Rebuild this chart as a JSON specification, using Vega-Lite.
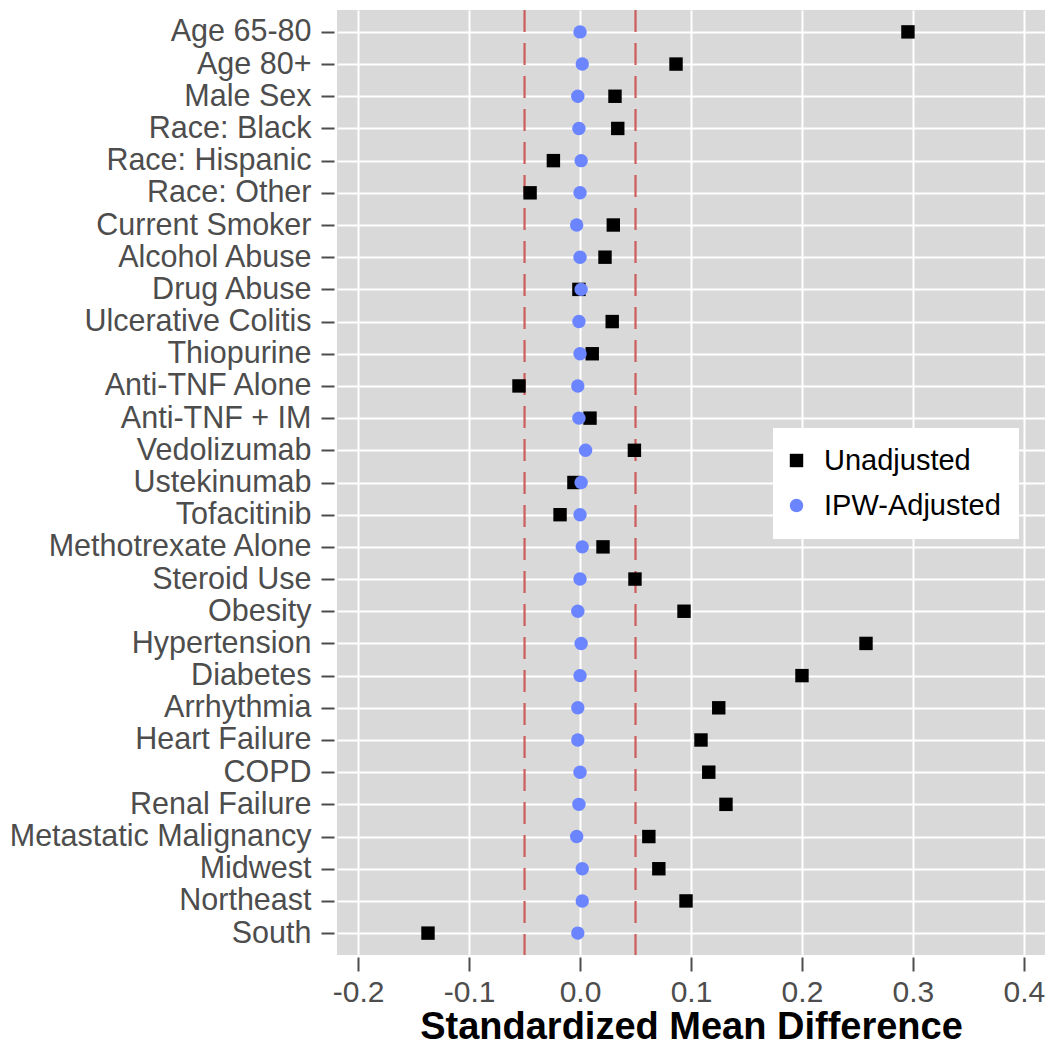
{
  "$schema": "https://vega.github.io/schema/vega-lite/v6.json",
  "width": 708,
  "height": 945,
  "autosize": {"type": "none"},
  "padding": {"left": 337, "top": 10, "right": 4, "bottom": 90},
  "background": "white",
  "view": {"fill": "#d9d9d9", "stroke": null},
  "config": {
    "font": "Liberation Sans",
    "axis": {"labelFont": "Liberation Sans", "titleFont": "Liberation Sans"}
  },
  "datasets": {
    "smd": [
      {"variable": "Age 65-80", "series": "Unadjusted", "smd": 0.2955},
      {"variable": "Age 65-80", "series": "IPW-Adjusted", "smd": 0.0},
      {"variable": "Age 80+", "series": "Unadjusted", "smd": 0.0865},
      {"variable": "Age 80+", "series": "IPW-Adjusted", "smd": 0.002},
      {"variable": "Male Sex", "series": "Unadjusted", "smd": 0.0315},
      {"variable": "Male Sex", "series": "IPW-Adjusted", "smd": -0.002},
      {"variable": "Race: Black", "series": "Unadjusted", "smd": 0.034},
      {"variable": "Race: Black", "series": "IPW-Adjusted", "smd": -0.001},
      {"variable": "Race: Hispanic", "series": "Unadjusted", "smd": -0.024},
      {"variable": "Race: Hispanic", "series": "IPW-Adjusted", "smd": 0.001},
      {"variable": "Race: Other", "series": "Unadjusted", "smd": -0.045},
      {"variable": "Race: Other", "series": "IPW-Adjusted", "smd": 0.0},
      {"variable": "Current Smoker", "series": "Unadjusted", "smd": 0.030},
      {"variable": "Current Smoker", "series": "IPW-Adjusted", "smd": -0.003},
      {"variable": "Alcohol Abuse", "series": "Unadjusted", "smd": 0.0225},
      {"variable": "Alcohol Abuse", "series": "IPW-Adjusted", "smd": 0.0},
      {"variable": "Drug Abuse", "series": "Unadjusted", "smd": -0.001},
      {"variable": "Drug Abuse", "series": "IPW-Adjusted", "smd": 0.001},
      {"variable": "Ulcerative Colitis", "series": "Unadjusted", "smd": 0.029},
      {"variable": "Ulcerative Colitis", "series": "IPW-Adjusted", "smd": -0.001},
      {"variable": "Thiopurine", "series": "Unadjusted", "smd": 0.011},
      {"variable": "Thiopurine", "series": "IPW-Adjusted", "smd": 0.0},
      {"variable": "Anti-TNF Alone", "series": "Unadjusted", "smd": -0.055},
      {"variable": "Anti-TNF Alone", "series": "IPW-Adjusted", "smd": -0.002},
      {"variable": "Anti-TNF + IM", "series": "Unadjusted", "smd": 0.009},
      {"variable": "Anti-TNF + IM", "series": "IPW-Adjusted", "smd": -0.001},
      {"variable": "Vedolizumab", "series": "Unadjusted", "smd": 0.049},
      {"variable": "Vedolizumab", "series": "IPW-Adjusted", "smd": 0.005},
      {"variable": "Ustekinumab", "series": "Unadjusted", "smd": -0.0055},
      {"variable": "Ustekinumab", "series": "IPW-Adjusted", "smd": 0.001},
      {"variable": "Tofacitinib", "series": "Unadjusted", "smd": -0.018},
      {"variable": "Tofacitinib", "series": "IPW-Adjusted", "smd": 0.0},
      {"variable": "Methotrexate Alone", "series": "Unadjusted", "smd": 0.0207},
      {"variable": "Methotrexate Alone", "series": "IPW-Adjusted", "smd": 0.002},
      {"variable": "Steroid Use", "series": "Unadjusted", "smd": 0.0495},
      {"variable": "Steroid Use", "series": "IPW-Adjusted", "smd": 0.0},
      {"variable": "Obesity", "series": "Unadjusted", "smd": 0.0937},
      {"variable": "Obesity", "series": "IPW-Adjusted", "smd": -0.002},
      {"variable": "Hypertension", "series": "Unadjusted", "smd": 0.2577},
      {"variable": "Hypertension", "series": "IPW-Adjusted", "smd": 0.001},
      {"variable": "Diabetes", "series": "Unadjusted", "smd": 0.200},
      {"variable": "Diabetes", "series": "IPW-Adjusted", "smd": 0.0},
      {"variable": "Arrhythmia", "series": "Unadjusted", "smd": 0.125},
      {"variable": "Arrhythmia", "series": "IPW-Adjusted", "smd": -0.002},
      {"variable": "Heart Failure", "series": "Unadjusted", "smd": 0.109},
      {"variable": "Heart Failure", "series": "IPW-Adjusted", "smd": -0.002},
      {"variable": "COPD", "series": "Unadjusted", "smd": 0.116},
      {"variable": "COPD", "series": "IPW-Adjusted", "smd": 0.0},
      {"variable": "Renal Failure", "series": "Unadjusted", "smd": 0.1315},
      {"variable": "Renal Failure", "series": "IPW-Adjusted", "smd": -0.001},
      {"variable": "Metastatic Malignancy", "series": "Unadjusted", "smd": 0.062},
      {"variable": "Metastatic Malignancy", "series": "IPW-Adjusted", "smd": -0.003},
      {"variable": "Midwest", "series": "Unadjusted", "smd": 0.071},
      {"variable": "Midwest", "series": "IPW-Adjusted", "smd": 0.002},
      {"variable": "Northeast", "series": "Unadjusted", "smd": 0.0955},
      {"variable": "Northeast", "series": "IPW-Adjusted", "smd": 0.002},
      {"variable": "South", "series": "Unadjusted", "smd": -0.137},
      {"variable": "South", "series": "IPW-Adjusted", "smd": -0.002}
    ],
    "thresholds": [{"threshold": -0.05}, {"threshold": 0.05}]
  },
  "layer": [
    {
      "data": {"name": "thresholds"},
      "mark": {"type": "rule", "color": "#cd5c5c", "strokeWidth": 2.2, "strokeDash": [22, 11]},
      "encoding": {
        "x": {"field": "threshold", "type": "quantitative", "scale": {"domain": [-0.219, 0.419], "nice": false, "zero": false}}
      }
    },
    {
      "data": {"name": "smd"},
      "mark": {"type": "point", "filled": true, "opacity": 1, "strokeWidth": 0, "size": 180},
      "encoding": {
        "y": {
          "field": "variable", "type": "nominal", "sort": null,
          "scale": {"type": "point", "padding": 0.68},
          "axis": {
            "title": null, "domain": false, "offset": 3,
            "ticks": true, "tickSize": 13, "tickWidth": 2, "tickColor": "#4d4d4d",
            "labelFontSize": 30.5, "labelColor": "#4d4d4d", "labelPadding": 10, "labelLimit": 400,
            "grid": true, "gridColor": "white", "gridWidth": 2, "gridOpacity": 1
          }
        },
        "x": {
          "field": "smd", "type": "quantitative",
          "scale": {"domain": [-0.219, 0.419], "nice": false, "zero": false},
          "axis": {
            "title": "Standardized Mean Difference",
            "titleFontSize": 38, "titleFontWeight": "bold", "titleColor": "black", "titlePadding": 1,
            "values": [-0.2, -0.1, 0.0, 0.1, 0.2, 0.3, 0.4],
            "labelExpr": "replace(format(datum.value, '.1f'), '\u2212', '-')",
            "domain": false, "offset": 2,
            "tickSize": 14, "tickWidth": 2, "tickColor": "#4d4d4d",
            "labelFontSize": 30, "labelColor": "#4d4d4d", "labelPadding": 6,
            "grid": true, "gridColor": "white", "gridWidth": 2, "gridOpacity": 1
          }
        },
        "color": {
          "field": "series", "type": "nominal",
          "scale": {"domain": ["Unadjusted", "IPW-Adjusted"], "range": ["black", "#6b84ff"]},
          "legend": {
            "title": null, "orient": "none", "legendX": 436, "legendY": 418,
            "fillColor": "white", "padding": 18,
            "labelFontSize": 29, "labelColor": "black", "labelOffset": 13, "labelLimit": 500,
            "symbolOffset": -9,
            "rowPadding": 15, "symbolStrokeWidth": 0, "symbolSize": 180,
            "labelExpr": "datum.label + '\u00a0\u00a0\u00a0\u00a0\u00a0\u00a0\u00a0'"
          }
        },
        "shape": {
          "field": "series", "type": "nominal",
          "scale": {"domain": ["Unadjusted", "IPW-Adjusted"], "range": ["square", "circle"]}
        }
      }
    }
  ]
}
